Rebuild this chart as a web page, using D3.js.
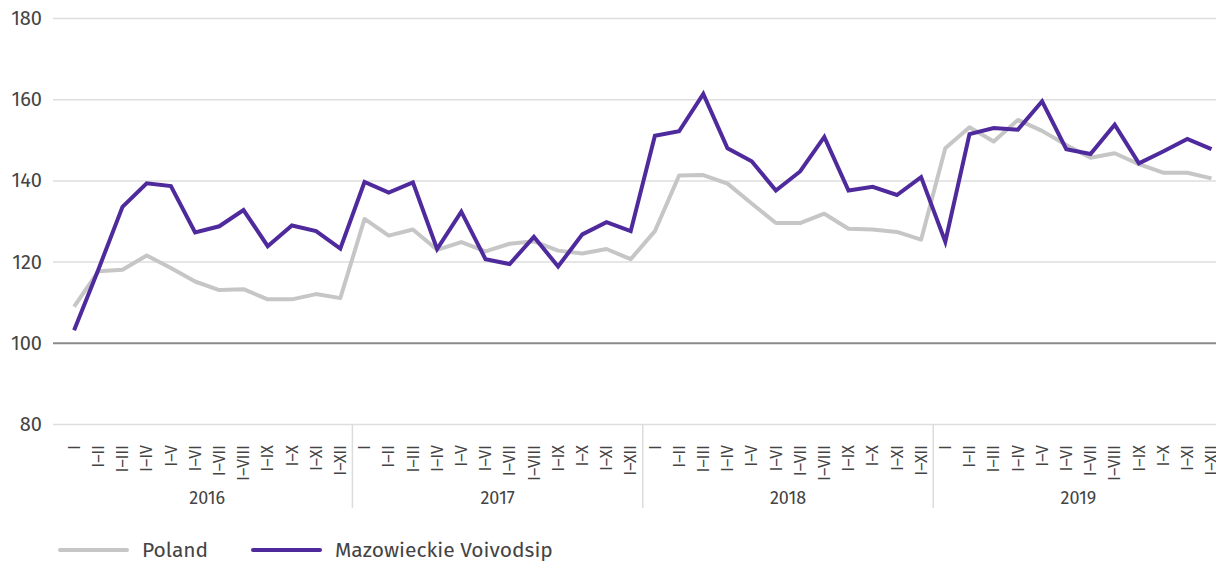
<!DOCTYPE html>
<html>
<head>
<meta charset="utf-8">
<script src="https://cdn.jsdelivr.net/npm/d3@7"></script>
<style>
  body { margin: 0; background: #fff; }
  text { font-family: "Fira Sans", "Noto Sans", sans-serif; fill: #444; }
</style>
</head>
<body>
<script>
var width = 1216
var height = 562

var years = ["2016", "2017", "2018", "2019"]
var months = ["I", "I–II", "I–III", "I–IV", "I–V", "I–VI", "I–VII", "I–VIII", "I–IX", "I–X", "I–XI", "I–XII"]
var y_ticks = [80, 100, 120, 140, 160, 180]

var poland = [
  108.9, 117.6, 118.0, 121.5, 118.4, 115.1, 113.0, 113.2, 110.7, 110.7, 112.0, 111.0,
  130.5, 126.4, 127.9, 122.9, 124.8, 122.5, 124.4, 125.0, 122.7, 122.0, 123.1, 120.6,
  127.5, 141.2, 141.3, 139.2, 134.3, 129.5, 129.5, 131.8, 128.1, 127.9, 127.3, 125.4,
  147.9, 153.1, 149.6, 154.9, 152.2, 148.7, 145.6, 146.7, 144.0, 141.9, 141.9, 140.5
]
var mazowieckie = [
  103.1, 118.0, 133.5, 139.3, 138.6, 127.2, 128.7, 132.7, 123.8, 128.9, 127.5, 123.2,
  139.6, 137.0, 139.5, 123.1, 132.3, 120.6, 119.4, 126.1, 118.8, 126.7, 129.7, 127.5,
  151.0, 152.1, 161.3, 147.9, 144.7, 137.5, 142.2, 150.7, 137.5, 138.4, 136.4, 140.8,
  124.9, 151.4, 152.9, 152.5, 159.5, 147.7, 146.5, 153.7, 144.2, 147.1, 150.2, 147.7
]

var series_names = ["Poland", "Mazowieckie Voivodsip"]
var colors = ["#c6c6c6", "#4f2a9c"]

// one key per month, year + label
var keys = []
years.forEach(function(yr) {
  months.forEach(function(m) { keys.push(yr + "|" + m) })
})

var x = d3.scaleBand()
.domain(keys)
.range([62, 62 + 48 * 24.2])

var y = d3.scaleLinear()
.domain([80, 180])
.range([424, 18])

var svg = d3.select("body").append("svg")
.attr("width", width)
.attr("height", height)

// gridlines + y labels
var yaxis = svg.append("g")
.attr("transform", "translate(53,0)")
.call(d3.axisLeft(y).tickValues(y_ticks).tickSize(-(width - 53)).tickPadding(11))

yaxis.select(".domain").remove()
yaxis.selectAll(".tick line")
.attr("stroke", function(d) { return d == 100 ? "#8a8a8a" : "#dedede" })
.attr("stroke-width", function(d) { return d == 100 ? 2 : 1.5 })
yaxis.selectAll(".tick text")
.style("font-size", "20px")
.attr("fill", "#444")
.style("font-family", "'Fira Sans', 'Noto Sans', sans-serif")

// month labels
var xaxis = svg.append("g")
.attr("transform", "translate(0,445)")

xaxis.selectAll("text")
.data(keys)
.enter().append("text")
.attr("transform", function(d) { return "translate(" + (x(d) + x.bandwidth() / 2) + ",0) rotate(-90)" })
.attr("dy", "0.35em")
.style("text-anchor", "end")
.style("font-size", "16px")
.text(function(d) { return d.split("|")[1] })

// year separators and labels
svg.append("g")
.selectAll("line")
.data(years.slice(1))
.enter().append("line")
.attr("x1", function(d) { return x(d + "|I") })
.attr("x2", function(d) { return x(d + "|I") })
.attr("y1", 424)
.attr("y2", 508)
.attr("stroke", "#dcdcdc")
.attr("stroke-width", 1.5)

svg.append("g")
.selectAll("text")
.data(years)
.enter().append("text")
.attr("x", function(d) { return (x(d + "|I") + x(d + "|I–XII") + x.bandwidth()) / 2 })
.attr("y", 504)
.style("text-anchor", "middle")
.style("font-size", "18px")
.text(function(d) { return d })

// lines
var line = d3.line()
.x(function(d, i) { return x(keys[i]) + x.bandwidth() / 2 })
.y(function(d) { return y(d) })

svg.append("path")
.datum(poland)
.attr("d", line)
.attr("fill", "none")
.attr("stroke", colors[0])
.attr("stroke-width", 4)
.attr("stroke-linejoin", "round")

svg.append("path")
.datum(mazowieckie)
.attr("d", line)
.attr("fill", "none")
.attr("stroke", colors[1])
.attr("stroke-width", 4)
.attr("stroke-linejoin", "miter")

// legend
var legend_x = [60, 253]
var legend = svg.append("g")
.selectAll("g")
.data(series_names)
.enter().append("g")
.attr("transform", function(d, i) { return "translate(" + legend_x[i] + ",550)" })

legend.append("line")
.attr("x1", 0)
.attr("x2", 67)
.attr("stroke", function(d, i) { return colors[i] })
.attr("stroke-width", 4)
.attr("stroke-linecap", "round")

legend.append("text")
.attr("x", 82)
.attr("dy", "0.35em")
.style("font-size", "21px")
.text(function(d) { return d })
</script>
</body>
</html>
